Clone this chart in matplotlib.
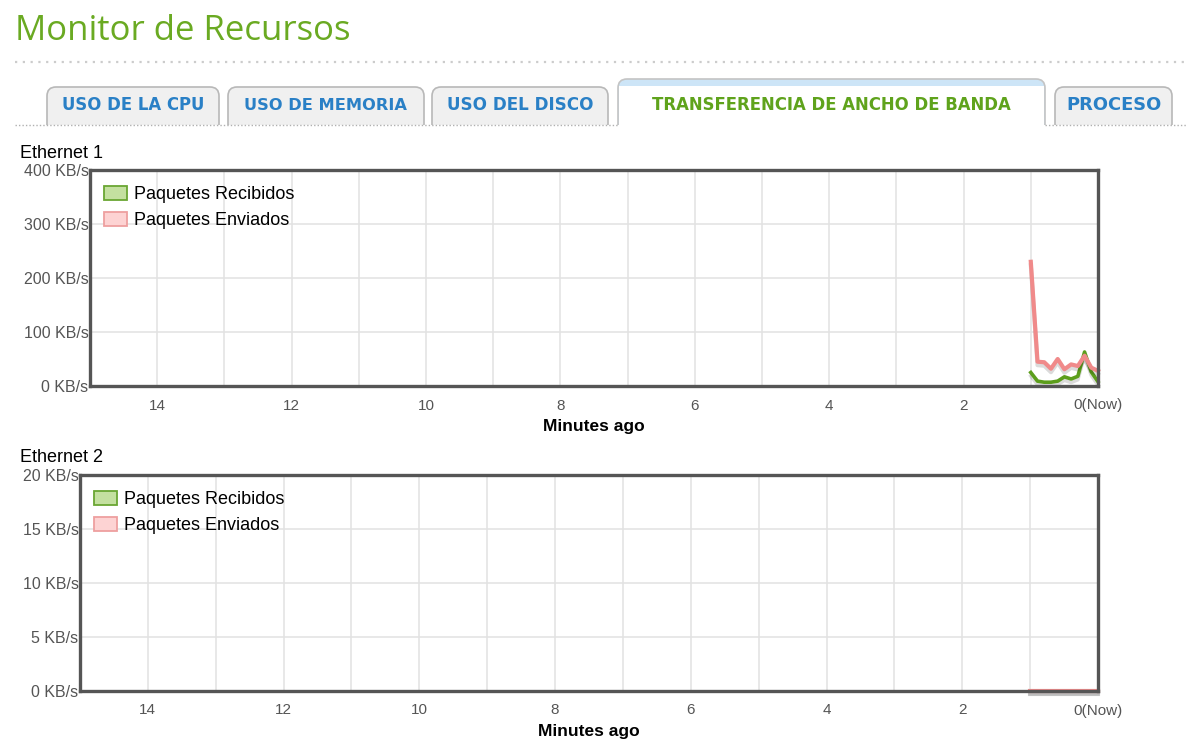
import matplotlib
matplotlib.use("Agg")
import matplotlib.pyplot as plt
import matplotlib.patheffects as pe
from matplotlib.patches import Patch, FancyBboxPatch, Rectangle

plt.rcParams['font.family'] = ['Liberation Sans', 'DejaVu Sans']

# ---- data (x = minutes ago) ----
t_min = [1.0, 0.9, 0.8, 0.7, 0.6, 0.5, 0.4, 0.3, 0.2, 0.1, 0.0]
eth1_recv = [25, 9, 7, 7, 9, 17, 13, 18, 63, 26, 8]
eth1_sent = [230, 45, 44, 32, 50, 31, 40, 37, 56, 34, 28]
eth2_recv = [0, 0, 0, 0, 0, 0, 0, 0, 0, 0, 0]
eth2_sent = [0, 0, 0, 0, 0, 0, 0, 0, 0, 0, 0]

x_ticks = [14, 12, 10, 8, 6, 4, 2, 0]
x_labels = ['14', '12', '10', '8', '6', '4', '2', '0(Now)']
eth1_yticks = [0, 100, 200, 300, 400]
eth2_yticks = [0, 5, 10, 15, 20]

tab_labels = ['USO DE LA CPU', 'USO DE MEMORIA', 'USO DEL DISCO',
              'TRANSFERENCIA DE ANCHO DE BANDA', 'PROCESO']
active_tab = 'TRANSFERENCIA DE ANCHO DE BANDA'
series_names = ['Paquetes Recibidos', 'Paquetes Enviados']

W, H = 1186, 747
fig = plt.figure(figsize=(W / 100, H / 100), dpi=100)
fig.patch.set_facecolor('white')

# background axes in pixel coords for the page header
bg = fig.add_axes([0, 0, 1, 1])
bg.set_xlim(0, W)
bg.set_ylim(H, 0)
bg.axis('off')


def fit_width(txt, width_px):
    fig.canvas.draw()
    w = txt.get_window_extent().width
    txt.set_fontsize(txt.get_fontsize() * width_px / w)


title = bg.text(15, 31, 'Monitor de Recursos', color='#6aaa22', fontsize=26,
                va='center', ha='left', family='Open Sans')
fit_width(title, 337)

bg.plot([15, W], [62, 62], color='#cccccc', lw=1.6, ls=(0, (1, 2.5)))

# tabs (pixel extents), bottom edge hidden under the white strip
tab_x = [(47, 219), (228, 424), (432, 608), (618, 1045), (1055, 1172)]
for (x0, x1), lab in zip(tab_x, tab_labels):
    if lab == active_tab:
        top = 79
        bg.add_patch(FancyBboxPatch((x0, top), x1 - x0, 55,
                                    boxstyle='round,pad=0,rounding_size=9',
                                    fc='#cde5f7', ec='#c4c4c4', lw=1.2, zorder=2))
        bg.add_patch(Rectangle((x0 + 1.2, top + 7), x1 - x0 - 2.4, 50,
                               fc='white', ec='none', zorder=3))
        col = '#5fa31c'
    else:
        top = 87
        bg.add_patch(FancyBboxPatch((x0, top), x1 - x0, 46,
                                    boxstyle='round,pad=0,rounding_size=9',
                                    fc='#f0f0f0', ec='#b8b8b8', lw=1.2, zorder=2))
        col = '#2a80c6'
    t = bg.text((x0 + x1) / 2, 105, lab, color=col, fontsize=11.5,
                fontweight='bold', ha='center', va='center',
                family='DejaVu Sans', zorder=5)
    if lab == active_tab:
        fit_width(t, 362)
    else:
        fit_width(t, 0.86 * (x1 - x0) - 5)

bg.add_patch(Rectangle((0, 125), W, 13, fc='white', ec='none', zorder=4))
bg.plot([15, 618], [125, 125], color='#b0b0b0', lw=1, ls=(0, (1, 1.5)), zorder=5)
bg.plot([1045, W], [125, 125], color='#b0b0b0', lw=1, ls=(0, (1, 1.5)), zorder=5)

recv_col = '#5c9e1c'
sent_col = '#f08a8a'
shadow = [pe.SimpleLineShadow(offset=(0, -2.5), shadow_color='k', alpha=0.14),
          pe.Normal()]


def draw_chart(left_px, top_px, bottom_px, name, recv, sent, yticks):
    right_px = 1098
    ax = fig.add_axes([left_px / W, 1 - bottom_px / H,
                       (right_px - left_px) / W, (bottom_px - top_px) / H])
    bg.text(20, top_px - 17, name, fontsize=13, va='center', ha='left', zorder=6)
    ax.plot(t_min, recv, color=recv_col, lw=2.6, path_effects=shadow,
            clip_on=False, zorder=2)
    ax.plot(t_min, sent, color=sent_col, lw=3, path_effects=shadow,
            clip_on=False, zorder=2.1)
    ax.set_xlim(15, 0)
    ax.set_ylim(yticks[0], yticks[-1])
    ax.set_xticks(x_ticks)
    ax.set_xticklabels(x_labels)
    ax.set_xticks(range(1, 15), minor=True)
    ax.set_yticks(yticks)
    ax.set_yticklabels(['%d KB/s' % v for v in yticks])
    ax.grid(which='both', color='#e2e2e2', lw=1.1)
    ax.set_axisbelow(True)
    ax.tick_params(which='both', length=0, labelcolor='#555555')
    ax.tick_params(axis='x', pad=9, labelsize=11)
    ax.tick_params(axis='y', pad=1, labelsize=11.5)
    for s in ax.spines.values():
        s.set_color('#555555')
        s.set_linewidth(2.4)
        s.set_zorder(3)
    ax.set_xlabel('Minutes ago', fontsize=12.5, fontweight='bold', labelpad=5)
    handles = [Patch(fc='#c4e0a0', ec='#6aa633', lw=1.3),
               Patch(fc='#fdd3d3', ec='#ee9f9f', lw=1.3)]
    ax.legend(handles, series_names, loc='upper left',
              bbox_to_anchor=(14 / (right_px - left_px), 1 - 16 / (bottom_px - top_px)),
              frameon=False, fontsize=13, handlelength=1.3, handleheight=0.85,
              handletextpad=0.35, labelspacing=0.45, borderpad=0, borderaxespad=0)
    return ax


draw_chart(90, 170, 386, 'Ethernet 1', eth1_recv, eth1_sent, eth1_yticks)
draw_chart(80, 475, 691, 'Ethernet 2', eth2_recv, eth2_sent, eth2_yticks)

fig.savefig('out.png', dpi=100)
